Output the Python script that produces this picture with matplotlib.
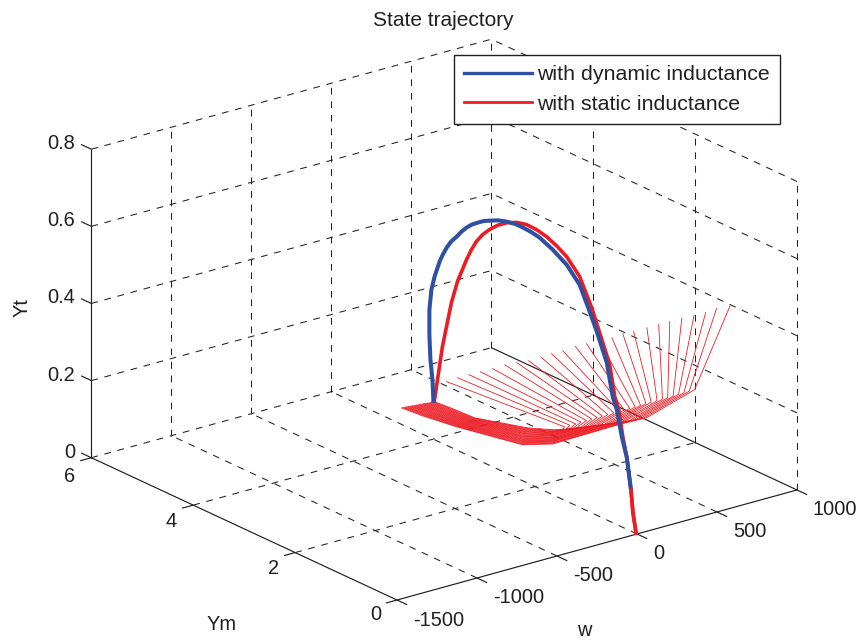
import numpy as np
import matplotlib
matplotlib.use('Agg')
import matplotlib.pyplot as plt
from matplotlib.lines import Line2D
from mpl_toolkits.mplot3d import proj3d

plt.rcParams['font.family'] = ['Liberation Sans', 'DejaVu Sans']
INK = '#231F20'
BLUE = '#2F4FA2'
RED = '#ED1C24'
DASH = (0, (6.5, 6.5))

w_ticks = [-1500, -1000, -500, 0, 500, 1000]
ym_ticks = [0, 2, 4, 6]
yt_ticks = [0, 0.2, 0.4, 0.6, 0.8]
yt_labels = ['0', '0.2', '0.4', '0.6', '0.8']

# dynamic inductance trajectory
dyn_w = [324,268,200,124,55,12,-5,-17,-20,-17,-10,4,15,29,44,65,86,106,136,165,195,
         218,245,270,302,333,348,331,317,289,231,219,174,146,82]
dyn_ym = [5.015,4.857,4.683,4.465,4.248,4.073,3.957,3.820,3.750,3.683,3.618,3.554,3.495,3.437,
          3.385,3.332,3.280,3.227,3.152,3.078,3.004,2.930,2.845,2.759,2.605,2.426,2.219,1.969,
          1.785,1.501,1.201,1.083,0.844,0.657,0.376]
dyn_yt = [0.000,0.071,0.141,0.228,0.314,0.382,0.425,0.474,0.496,0.518,0.537,0.552,0.567,0.580,
          0.589,0.595,0.600,0.602,0.604,0.602,0.597,0.590,0.580,0.568,0.543,0.511,0.470,0.418,
          0.379,0.319,0.255,0.230,0.180,0.140,0.082]

# static inductance trajectory
sta_w = [328,297,232,160,135,124,123,127,140,158,184,215,248,280,309,338,361,382,395,375,
         350,317,256,242,189,153,86,63,35,-6]
sta_ym = [5.008,4.849,4.549,4.145,3.949,3.735,3.642,3.550,3.470,3.391,3.304,3.217,3.131,3.045,
          2.940,2.836,2.708,2.581,2.367,2.068,1.832,1.531,1.239,1.117,0.872,0.679,0.389,0.299,
          0.191,0.000]
sta_yt = [0.000,0.068,0.179,0.327,0.396,0.468,0.498,0.526,0.547,0.563,0.577,0.585,0.587,0.583,
          0.573,0.558,0.539,0.517,0.477,0.417,0.369,0.309,0.250,0.226,0.177,0.138,0.080,0.063,
          0.041,0.003]

# static inductance fan, one row per line
fan_w = [
    [320,332,342,466,547,498,412,457,-113],
    [312,325,336,459,542,511,430,478,-70],
    [305,317,330,452,537,523,448,499,-35],
    [297,310,324,445,532,536,467,519,2],
    [290,302,317,439,527,549,485,540,41],
    [282,295,311,432,522,562,504,561,88],
    [275,288,305,425,518,574,522,582,118],
    [267,280,299,418,513,587,541,602,148],
    [260,273,293,411,508,600,559,623,195],
    [252,265,287,405,503,613,578,644,230],
    [245,258,281,398,498,625,596,665,265],
    [237,251,275,391,493,638,615,685,316],
    [230,243,269,384,488,651,633,706,350],
    [222,236,262,377,483,664,652,727,393],
    [215,228,256,371,478,676,670,748,432],
    [207,221,250,364,473,689,689,769,475],
    [200,214,244,357,468,702,707,789,501],
    [192,206,238,350,463,715,726,810,552],
    [185,199,232,343,458,727,744,831,591],
    [177,191,226,337,454,740,763,851,625],
    [169,184,220,330,449,753,781,872,672],
    [162,177,214,323,444,766,800,893,703],
    [154,169,207,316,439,778,818,914,741],
    [147,162,201,309,434,791,837,934,784],
    [139,154,195,303,429,804,855,955,827],
]
fan_ym = [
    [4.98,4.71,4.26,3.61,3.38,3.14,2.77,2.86,3.38],
    [4.98,4.70,4.26,3.59,3.36,3.13,2.76,2.82,3.30],
    [4.99,4.70,4.26,3.58,3.34,3.12,2.75,2.77,3.19],
    [4.99,4.70,4.25,3.56,3.33,3.10,2.74,2.73,3.08],
    [4.99,4.70,4.25,3.54,3.31,3.09,2.73,2.69,2.96],
    [5.00,4.70,4.24,3.52,3.30,3.08,2.71,2.65,2.87],
    [5.00,4.70,4.24,3.51,3.28,3.06,2.70,2.61,2.73],
    [5.01,4.70,4.23,3.49,3.27,3.05,2.69,2.57,2.59],
    [5.01,4.70,4.23,3.47,3.25,3.04,2.68,2.53,2.50],
    [5.01,4.70,4.22,3.46,3.24,3.02,2.67,2.48,2.40],
    [5.02,4.70,4.22,3.44,3.22,3.01,2.66,2.44,2.29],
    [5.02,4.70,4.21,3.42,3.21,3.00,2.65,2.40,2.20],
    [5.02,4.70,4.21,3.40,3.19,2.98,2.63,2.36,2.09],
    [5.03,4.70,4.21,3.39,3.17,2.97,2.62,2.32,1.97],
    [5.03,4.70,4.20,3.37,3.16,2.96,2.61,2.28,1.85],
    [5.03,4.70,4.20,3.35,3.14,2.94,2.60,2.24,1.77],
    [5.04,4.70,4.19,3.33,3.13,2.93,2.59,2.20,1.64],
    [5.04,4.70,4.19,3.32,3.11,2.92,2.58,2.15,1.54],
    [5.04,4.70,4.18,3.30,3.10,2.91,2.57,2.11,1.43],
    [5.05,4.70,4.18,3.28,3.08,2.89,2.55,2.07,1.32],
    [5.05,4.70,4.17,3.27,3.07,2.88,2.54,2.03,1.23],
    [5.05,4.70,4.17,3.25,3.05,2.87,2.53,1.99,1.09],
    [5.06,4.70,4.17,3.23,3.03,2.85,2.52,1.95,0.98],
    [5.06,4.70,4.16,3.21,3.02,2.84,2.51,1.91,0.90],
    [5.06,4.70,4.16,3.20,3.00,2.83,2.50,1.87,0.77],
]
fan_yt_low = [0, 0, 0, 0, 0, 0.02, 0.05]
fan_yt_bend = [.050,.054,.058,.063,.067,.071,.075,.079,.083,.088,.092,.096,.100,
               .104,.108,.113,.117,.121,.125,.129,.133,.138,.142,.146,.150]
fan_yt_tip = [.200,.210,.221,.231,.242,.252,.263,.273,.283,.294,.304,.315,.325,
              .335,.346,.356,.367,.377,.388,.398,.408,.419,.429,.440,.450]

fig = plt.figure(figsize=(8.59, 6.41), dpi=100)
ax = fig.add_subplot(projection='3d', computed_zorder=False)
ax.set_proj_type('ortho')
ax.set_box_aspect((504, 501, 330))
ax.view_init(elev=20.97, azim=-127.55, roll=0)
ax.set_xlim(-1500, 1000, view_margin=0)
ax.set_ylim(0, 6, view_margin=0)
ax.set_zlim(0, 0.8, view_margin=0)
ax.set_axis_off()

# put the box where the reference has it
M = ax.get_proj()
u0, v0, _ = proj3d.proj_transform(-1500, 0, 0, M)
u1, v1, _ = proj3d.proj_transform(1000, 0, 0, M)
k = 400 / (u1 - u0)
xl = ax.viewLim.intervalx
yl = ax.viewLim.intervaly
ax.set_position([(397 - k * (u0 - xl[0])) / 859, (41 - k * (v0 - yl[0])) / 641,
                 k * (xl[1] - xl[0]) / 859, k * (yl[1] - yl[0]) / 641])

def edge(x, y, z, dashed=True):
    if dashed:
        ax.plot(x, y, z, color=INK, lw=0.75, ls=DASH, zorder=1)
    else:
        ax.plot(x, y, z, color=INK, lw=0.85, zorder=1.5, solid_capstyle='butt')

xmin, xmax = w_ticks[0], w_ticks[-1]
ymin, ymax = ym_ticks[0], ym_ticks[-1]
zmin, zmax = yt_ticks[0], yt_ticks[-1]

# grid on floor and the two back walls
for v in w_ticks[1:-1]:
    edge([v, v], [ymin, ymax], [zmin, zmin])
for v in w_ticks[1:]:
    edge([v, v], [ymax, ymax], [zmin, zmax])
for v in ym_ticks[1:-1]:
    edge([xmin, xmax], [v, v], [zmin, zmin])
for v in ym_ticks[:-1]:
    edge([xmax, xmax], [v, v], [zmin, zmax])
for v in yt_ticks[1:]:
    edge([xmin, xmax], [ymax, ymax], [v, v])
    edge([xmax, xmax], [ymin, ymax], [v, v])
edge([xmin, xmax], [ymax, ymax], [zmin, zmin])

# solid box edges and ticks
edge([xmin, xmax], [ymin, ymin], [zmin, zmin], False)
edge([xmin, xmin], [ymin, ymax], [zmin, zmin], False)
edge([xmin, xmin], [ymax, ymax], [zmin, zmax], False)
edge([xmax, xmax], [ymin, ymax], [zmin, zmin], False)
for v in w_ticks:
    edge([v, v], [ymin, ymin - 0.2], [zmin, zmin], False)
for v in ym_ticks:
    edge([xmin, xmin - 70], [v, v], [zmin, zmin], False)
for v in yt_ticks:
    edge([xmin, xmin], [ymax, ymax + 0.2], [v, v], False)

# tick labels, offset in pixels from the projected tick
def tick_label(x, y, z, s, dx, dy, ha):
    u, v, _ = proj3d.proj_transform(x, y, z, M)
    ax.annotate(s, xy=(u, v), xycoords='data', xytext=(dx, dy), textcoords='offset pixels',
                ha=ha, va='center', fontsize=14.4, color=INK, annotation_clip=False)

for v in w_ticks:
    tick_label(v, ymin, zmin, str(v), 16, -20, 'left')
for v, dy in zip(ym_ticks, [-15, -16, -16, -19]):
    tick_label(xmin, v, zmin, str(v), -16, dy, 'right')
for v, s in zip(yt_ticks, yt_labels):
    tick_label(xmin, ymax, v, s, -16, 5.5, 'right')

# fan of thin lines
for i in range(len(fan_w)):
    yt = fan_yt_low + [fan_yt_bend[i], fan_yt_tip[i]]
    ax.plot(fan_w[i], fan_ym[i], yt, color=RED, lw=0.6, zorder=2)

ax.plot(sta_w, sta_ym, sta_yt, color=RED, lw=2.6, zorder=3)
ax.plot(dyn_w, dyn_ym, dyn_yt, color=BLUE, lw=2.9, zorder=4)
ax.plot(sta_w[26:], sta_ym[26:], sta_yt[26:], color=RED, lw=2.6, zorder=5)

handles = [Line2D([], [], color=BLUE, lw=2.4), Line2D([], [], color=RED, lw=2.0)]
leg = fig.legend(handles, ['with dynamic inductance', 'with static inductance'],
                 loc='upper left', bbox_to_anchor=(454 / 859, 1 - 55 / 641), borderaxespad=0,
                 fontsize=15.4, fancybox=False, framealpha=1, edgecolor=INK,
                 handlelength=3.17, handletextpad=0.24, borderpad=0.47, labelspacing=0.51,
                 labelcolor=INK)
leg.get_frame().set_linewidth(1.0)

fig.text(443 / 859, 1 - 21 / 641, 'State trajectory', ha='center', va='center', fontsize=15, color=INK)
fig.text(222 / 859, 1 - 625 / 641, 'Ym', ha='center', va='center', fontsize=14.4, color=INK)
fig.text(584 / 859, 1 - 636 / 641, 'w', ha='center', va='baseline', fontsize=14.4, color=INK)
fig.text(22 / 859, 1 - 308 / 641, 'Yt', ha='center', va='center', rotation=90, fontsize=14.4, color=INK)

fig.savefig('out.png', dpi=100)
